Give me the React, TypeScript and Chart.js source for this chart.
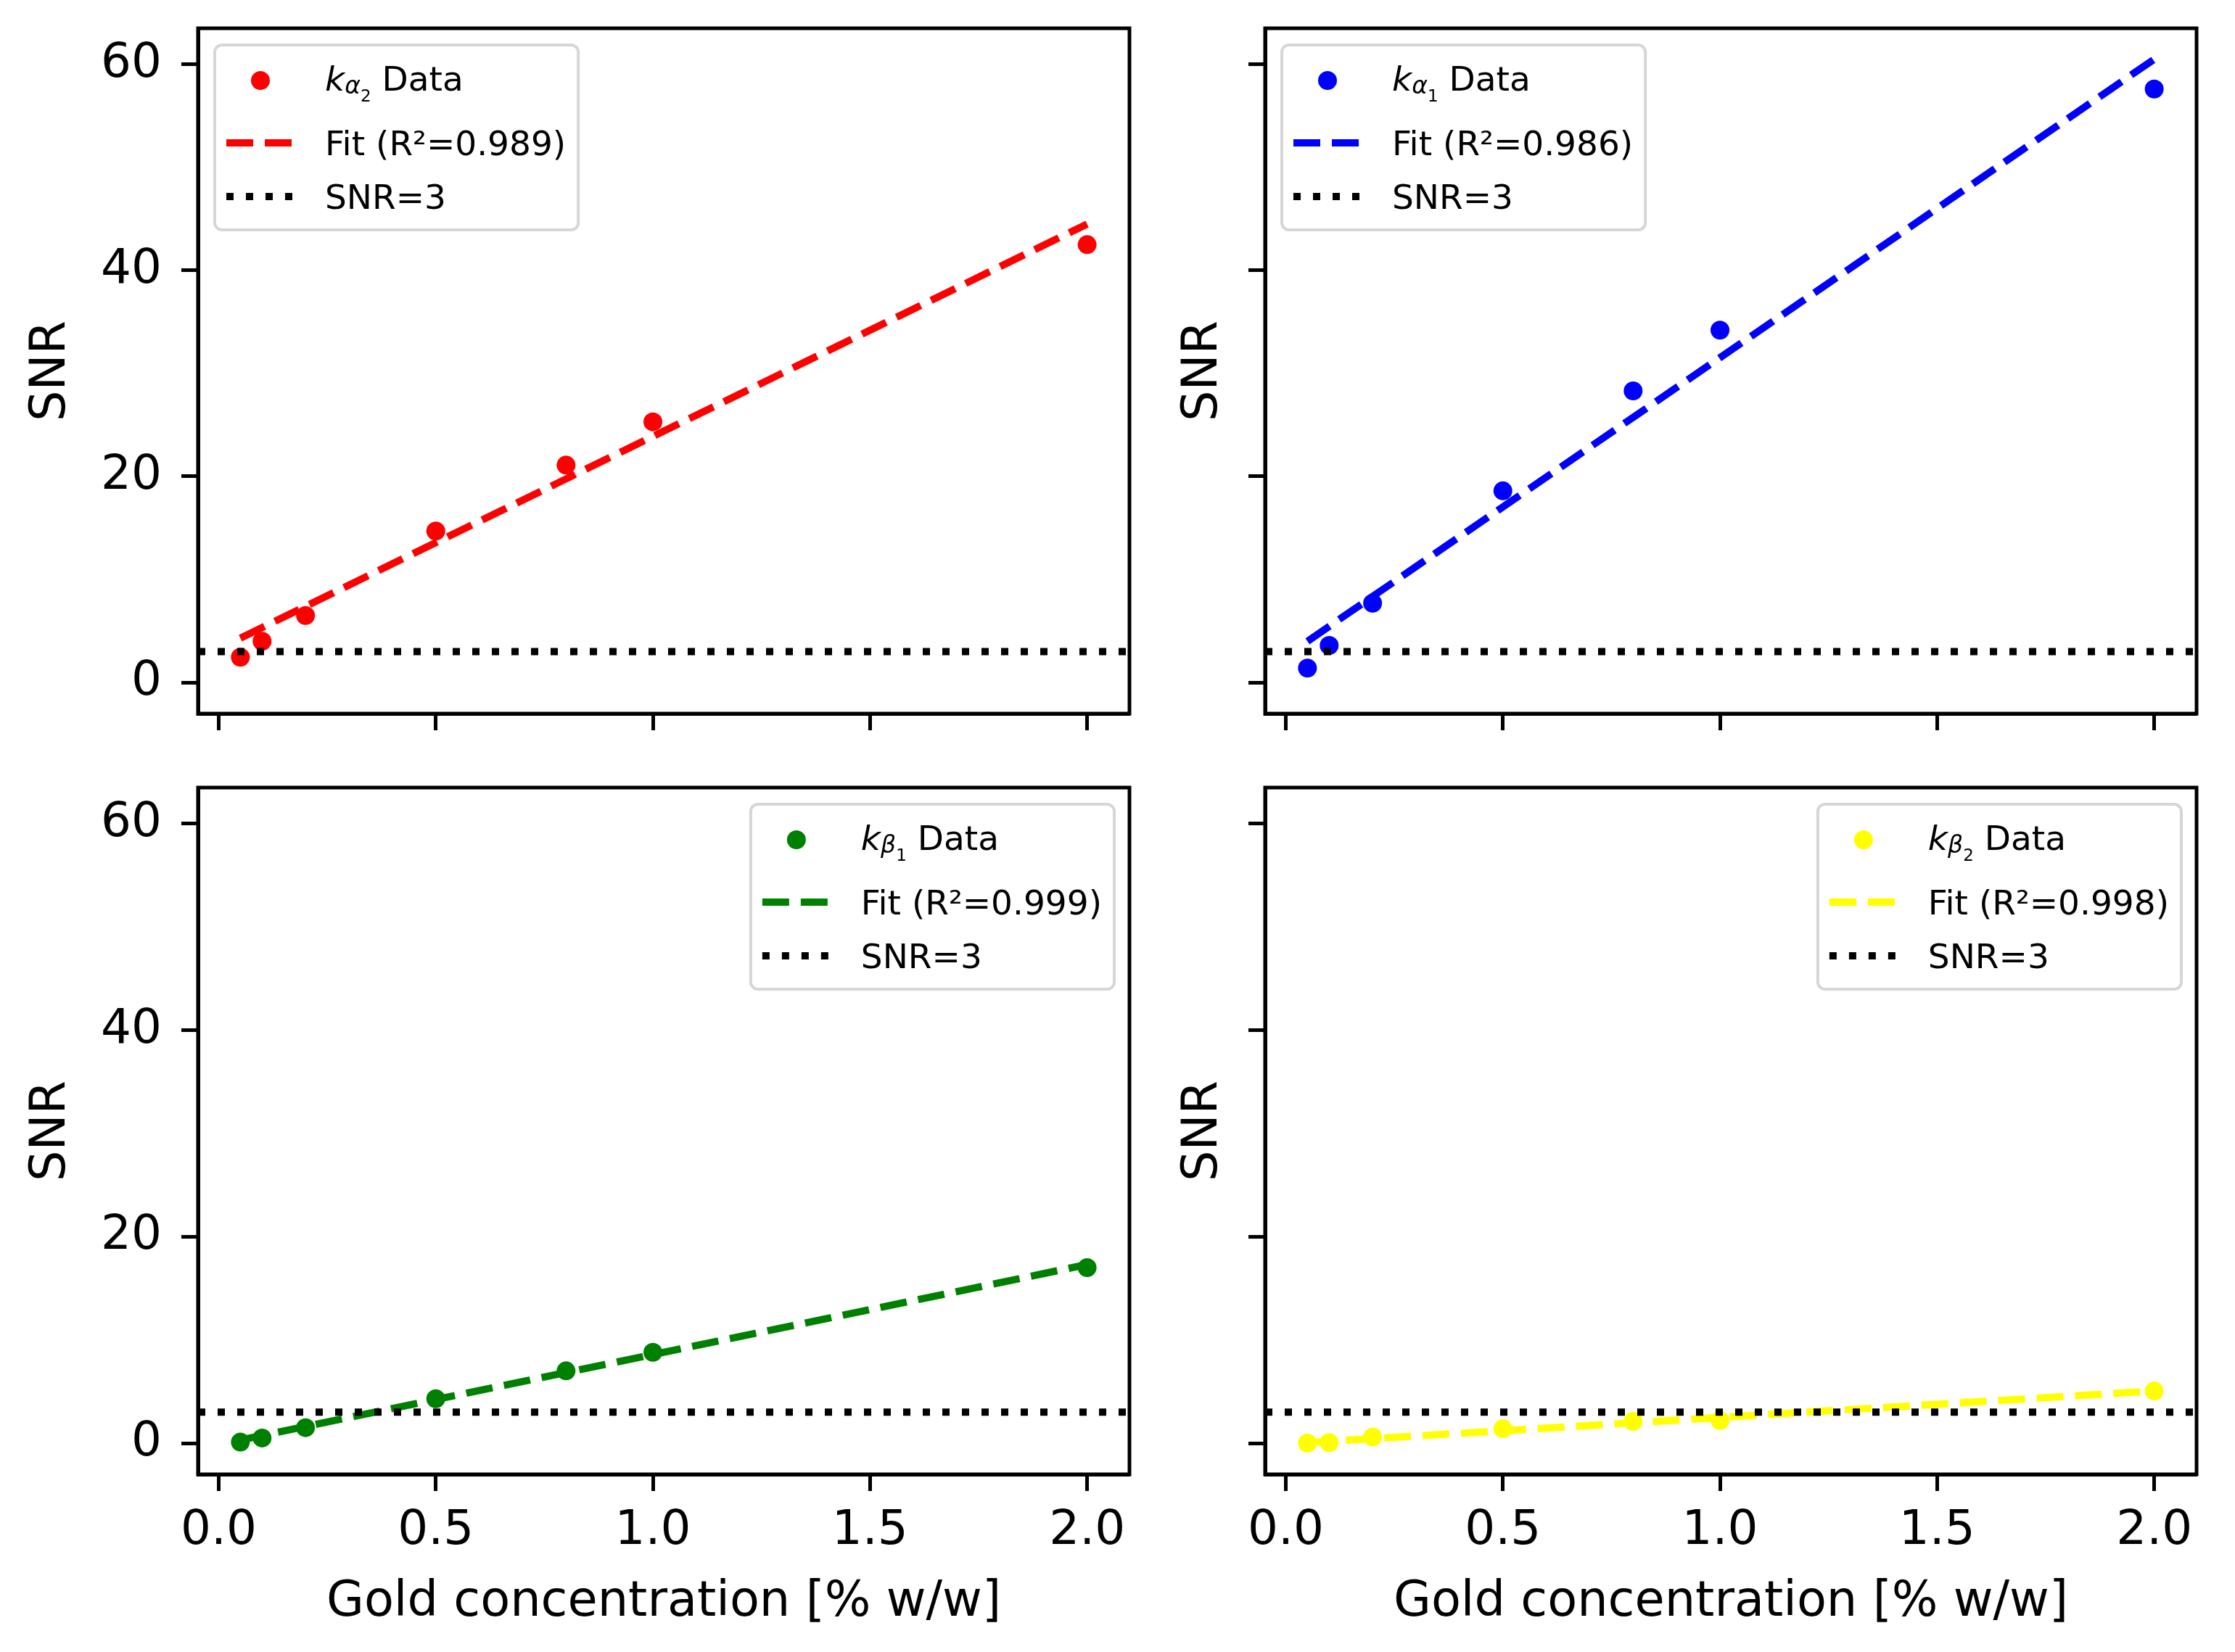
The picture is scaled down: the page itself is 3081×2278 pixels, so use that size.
import { useEffect, useRef } from "react";
import { Chart, registerables } from "chart.js";

Chart.register(...registerables);

// gold concentration [% w/w] of the samples
const concentration = [0.05, 0.1, 0.2, 0.5, 0.8, 1.0, 2.0];

// measured SNR per emission line
const snrKa2 = [2.45, 4.0, 6.5, 14.7, 21.1, 25.3, 42.5];
const snrKa1 = [1.4, 3.6, 7.7, 18.6, 28.3, 34.2, 57.6];
const snrKb1 = [0.1, 0.5, 1.5, 4.3, 7.0, 8.8, 17.0];
const snrKb2 = [0.0, 0.05, 0.6, 1.4, 2.1, 2.2, 5.05];

// linear fit, evaluated at the ends of the concentration range
const fitX = [0.05, 2.0];
const fitKa2 = [4.3, 44.5];
const fitKa1 = [4.0, 60.5];
const fitKb1 = [0.3, 17.3];
const fitKb2 = [0.05, 5.05];

const r2Labels = ["0.989", "0.986", "0.999", "0.998"];
const greekLetters = ["α", "α", "β", "β"];
const lineIndices = ["2", "1", "1", "2"];

const snrThreshold = 3;
const xTicks = [0, 0.5, 1.0, 1.5, 2.0];
const yTicks = [0, 20, 40, 60];
const xLimits = [-0.0475, 2.0975];
const yLimits = [-3.02, 63.5];

const FONT = "'DejaVu Sans', sans-serif";

type PanelProps = {
  values: number[];
  fit: number[];
  color: string;
  r2: string;
  greek: string;
  sub: string;
  row: number;
  col: number;
};

const mplLegend = (greek: string, sub: string, corner: "left" | "right") => ({
  id: "mplLegend",
  afterDatasetsDraw(chart: any) {
    const { ctx, chartArea } = chart;
    const [dotted, fitLine, points] = chart.data.datasets;
    ctx.save();
    ctx.font = `47px ${FONT}`;
    const textW = Math.max(
      ctx.measureText(fitLine.label).width,
      ctx.measureText(dotted.label).width
    );
    const w = 150 + textW + 19;
    const h = 255;
    const left = corner === "left" ? chartArea.left + 23 : chartArea.right - 21 - w;
    const top = chartArea.top + 23;

    ctx.beginPath();
    ctx.roundRect(left, top, w, h, 10);
    ctx.fillStyle = "rgba(255,255,255,0.8)";
    ctx.fill();
    ctx.lineWidth = 4;
    ctx.strokeStyle = "#d6d6d6";
    ctx.stroke();

    const hx0 = left + 16;
    const hx1 = left + 110;
    const tx = left + 152;

    // row 1: scatter marker
    const r1 = top + 49;
    ctx.beginPath();
    ctx.arc((hx0 + hx1) / 2, r1, 13, 0, Math.PI * 2);
    ctx.fillStyle = points.backgroundColor;
    ctx.fill();

    ctx.fillStyle = "#000";
    ctx.textBaseline = "alphabetic";
    ctx.textAlign = "left";
    let x = tx;
    const base1 = r1 + 14;
    ctx.font = `italic 47px ${FONT}`;
    ctx.fillText("k", x, base1);
    x += ctx.measureText("k").width;
    ctx.font = `italic 33px ${FONT}`;
    ctx.fillText(greek, x, base1 + 4);
    x += ctx.measureText(greek).width;
    ctx.font = `23px ${FONT}`;
    ctx.fillText(sub, x, base1 + 15);
    x += ctx.measureText(sub).width;
    ctx.font = `47px ${FONT}`;
    ctx.fillText(" Data", x, base1);

    // row 2: fit line
    const r2 = top + 135;
    ctx.beginPath();
    ctx.setLineDash(fitLine.borderDash);
    ctx.lineWidth = fitLine.borderWidth;
    ctx.strokeStyle = fitLine.borderColor;
    ctx.moveTo(hx0, r2);
    ctx.lineTo(hx1, r2);
    ctx.stroke();
    ctx.fillText(fitLine.label, tx, r2 + 17);

    // row 3: threshold
    const r3 = top + 209;
    ctx.beginPath();
    ctx.setLineDash(dotted.borderDash);
    ctx.lineWidth = dotted.borderWidth;
    ctx.strokeStyle = dotted.borderColor;
    ctx.moveTo(hx0, r3);
    ctx.lineTo(hx1, r3);
    ctx.stroke();
    ctx.setLineDash([]);
    ctx.fillText(dotted.label, tx, r3 + 17);
    ctx.restore();
  },
});

const frame = {
  id: "frame",
  afterDraw(chart: any) {
    const { ctx, chartArea } = chart;
    ctx.save();
    ctx.lineWidth = 5;
    ctx.strokeStyle = "#000";
    ctx.strokeRect(
      chartArea.left,
      chartArea.top,
      chartArea.right - chartArea.left,
      chartArea.bottom - chartArea.top
    );
    ctx.restore();
  },
};

const Panel = ({ values, fit, color, r2, greek, sub, row, col }: PanelProps) => {
  const canvasRef = useRef<HTMLCanvasElement>(null);
  const width = 1590;
  const height = row === 0 ? 1040 : 1231;
  const bottomRow = row === 1;
  const leftCol = col === 0;

  useEffect(() => {
    if (!canvasRef.current) return;

    const chart = new Chart(canvasRef.current, {
      type: "scatter",
      data: {
        datasets: [
          {
            label: `SNR=${snrThreshold}`,
            data: xLimits.map((x) => ({ x, y: snrThreshold })),
            showLine: true,
            borderColor: "#000",
            borderWidth: 10,
            borderDash: [10, 17],
            borderCapStyle: "butt",
            pointRadius: 0,
          },
          {
            label: `Fit (R²=${r2})`,
            data: fitX.map((x, i) => ({ x, y: fit[i] })),
            showLine: true,
            borderColor: color,
            borderWidth: 10,
            borderDash: [37, 16],
            borderCapStyle: "butt",
            pointRadius: 0,
          },
          {
            label: `k${greek}${sub} Data`,
            data: concentration.map((x, i) => ({ x, y: values[i] })),
            backgroundColor: color,
            pointRadius: 13,
            pointBorderWidth: 0,
          },
        ],
      },
      options: {
        animation: false,
        responsive: false,
        events: [],
        layout: { padding: { top: 39, right: 33, left: 0, bottom: 0 } },
        plugins: {
          legend: { display: false },
          tooltip: { enabled: false },
        },
        scales: {
          x: {
            type: "linear",
            min: xLimits[0],
            max: xLimits[1],
            afterBuildTicks: (scale: any) => {
              scale.ticks = xTicks.map((value) => ({ value }));
            },
            afterFit: (scale: any) => {
              scale.height = bottomRow ? 245 : 56;
              scale.paddingLeft = 0;
              scale.paddingRight = 0;
            },
            grid: {
              drawOnChartArea: false,
              tickLength: 23,
              tickWidth: 5,
              tickColor: "#000",
            },
            border: { display: true, color: "#000", width: 5 },
            ticks: {
              display: bottomRow,
              color: "#000",
              padding: 23,
              font: { family: FONT, size: 66, lineHeight: 1 },
              callback: (v: any) => Number(v).toFixed(1),
            },
            title: {
              display: bottomRow,
              text: "Gold concentration [% w/w]",
              color: "#000",
              font: { family: FONT, size: 67, lineHeight: 1 },
              padding: { top: 0, bottom: 34 },
            },
          },
          y: {
            type: "linear",
            min: yLimits[0],
            max: yLimits[1],
            afterBuildTicks: (scale: any) => {
              scale.ticks = yTicks.map((value) => ({ value }));
            },
            afterFit: (scale: any) => {
              scale.width = 273;
              scale.paddingTop = 0;
              scale.paddingBottom = 0;
            },
            grid: {
              drawOnChartArea: false,
              tickLength: 23,
              tickWidth: 5,
              tickColor: "#000",
            },
            border: { display: true, color: "#000", width: 5 },
            ticks: {
              display: leftCol,
              color: "#000",
              padding: 27,
              font: { family: FONT, size: 66, lineHeight: 1 },
              callback: (v: any) => String(v),
            },
            title: {
              display: true,
              text: "SNR",
              color: "#000",
              font: { family: FONT, size: 67, lineHeight: 1 },
              padding: { top: leftCol ? 38 : 155, bottom: 0 },
            },
          },
        },
      },
      plugins: [mplLegend(greek, sub, bottomRow ? "right" : "left"), frame],
    } as any);

    return () => {
      chart.destroy();
    };
  }, []);

  return (
    <div
      style={{
        position: "absolute",
        left: col * 1471,
        top: row * 1047,
        width,
        height,
      }}
    >
      <canvas ref={canvasRef} width={width} height={height} style={{ width, height }} />
    </div>
  );
};

const App = () => {
  const series = [snrKa2, snrKa1, snrKb1, snrKb2];
  const fits = [fitKa2, fitKa1, fitKb1, fitKb2];
  const colors = ["#ff0000", "#0000ff", "#008000", "#ffff00"];

  return (
    <div
      style={{
        position: "absolute",
        left: 0,
        top: 0,
        width: 3081,
        height: 2278,
        background: "#fff",
        overflow: "hidden",
      }}
    >
      {series.map((values, i) => (
        <Panel
          key={i}
          values={values}
          fit={fits[i]}
          color={colors[i]}
          r2={r2Labels[i]}
          greek={greekLetters[i]}
          sub={lineIndices[i]}
          row={Math.floor(i / 2)}
          col={i % 2}
        />
      ))}
    </div>
  );
};

export default App;
